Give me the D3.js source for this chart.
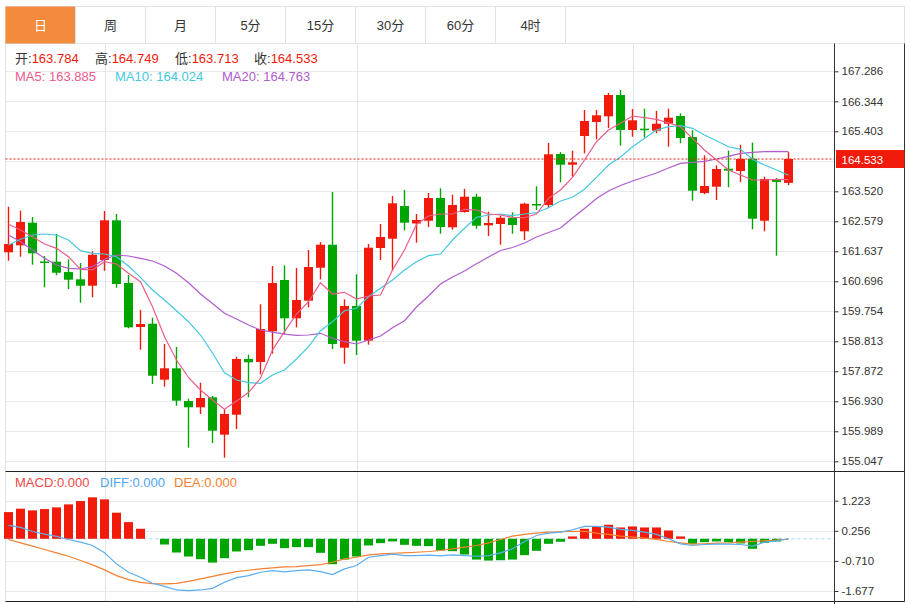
<!DOCTYPE html>
<html>
<head>
<meta charset="utf-8">
<script src="https://cdn.jsdelivr.net/npm/d3@7/dist/d3.min.js"></script>
<style>
  body { margin: 0; background: #fff; }
  svg { display: block; font-family: "Liberation Sans", "Noto Sans CJK SC", sans-serif; }
</style>
</head>
<body>
<div id="chart"></div>
<script>
// tabs across the top
var tabs = ["日", "周", "月", "5分", "15分", "30分", "60分", "4时"];

// daily candles
var open  = [161.606, 161.825, 162.535, 161.317, 161.311, 160.987, 160.758, 160.558, 161.364, 162.610,
             160.642, 159.261, 159.365, 157.608, 157.965, 156.939, 156.742, 157.055, 155.882, 156.509,
             158.257, 158.163, 159.127, 160.736, 159.535, 160.087, 161.122, 161.844, 158.612, 159.921,
             158.832, 161.741, 162.032, 163.059, 162.510, 162.597, 163.310, 162.390, 162.870, 163.350,
             162.453, 162.494, 162.691, 162.265, 163.121, 163.090, 164.690, 164.355, 165.255, 165.695,
             165.873, 166.542, 165.444, 165.485, 165.422, 165.641, 165.883, 165.224, 163.467, 163.664,
             164.229, 164.157, 164.543, 162.597, 163.906, 163.784];
var high  = [163.037, 162.911, 162.713, 161.490, 162.180, 161.386, 161.270, 161.637, 162.902, 162.808,
             160.893, 159.795, 159.553, 158.728, 158.634, 157.011, 157.514, 157.096, 156.679, 158.329,
             158.392, 159.974, 161.176, 161.198, 161.113, 161.678, 161.929, 163.498, 160.131, 160.915,
             161.866, 162.494, 163.372, 163.561, 162.808, 163.467, 163.614, 163.413, 163.602, 163.435,
             162.880, 162.754, 162.861, 163.162, 163.677, 165.036, 164.753, 164.794, 166.071, 166.071,
             166.605, 166.699, 166.103, 166.112, 166.040, 166.112, 165.968, 165.434, 164.650, 164.336,
             164.794, 164.982, 165.045, 163.978, 163.937, 164.749];
var low   = [161.342, 161.468, 161.217, 160.507, 160.884, 160.454, 160.024, 160.194, 161.028, 160.495,
             159.220, 158.549, 157.473, 157.388, 156.792, 155.474, 156.531, 155.621, 155.160, 156.061,
             157.055, 157.777, 158.424, 159.042, 159.252, 159.880, 160.758, 158.571, 158.110, 158.383,
             158.706, 161.364, 161.028, 162.296, 161.907, 162.400, 162.189, 162.315, 162.850, 162.346,
             162.117, 161.844, 162.189, 161.992, 162.933, 162.996, 163.802, 163.978, 164.712, 165.152,
             165.506, 164.951, 165.233, 165.215, 165.340, 164.920, 165.026, 163.225, 163.426, 163.247,
             163.645, 163.812, 162.327, 162.265, 161.499, 163.713];
var close = [161.866, 162.557, 161.574, 161.292, 160.965, 160.746, 160.558, 161.530, 162.610, 160.611,
             159.252, 159.356, 157.733, 157.965, 156.949, 156.742, 157.033, 156.007, 156.531, 158.257,
             158.154, 159.199, 160.642, 159.535, 160.109, 161.144, 161.844, 158.728, 159.921, 158.832,
             161.750, 162.086, 163.143, 162.535, 162.619, 163.310, 162.400, 163.090, 163.350, 162.440,
             162.525, 162.691, 162.462, 163.131, 163.103, 164.681, 164.355, 164.430, 165.726, 165.905,
             166.542, 165.444, 165.748, 165.453, 165.641, 165.830, 165.193, 163.539, 163.686, 164.220,
             164.167, 164.534, 162.660, 163.906, 163.812, 164.533];

// moving averages as drawn
var ma5  = [162.484, 162.306, 162.095, 161.866, 161.731, 161.468, 161.072, 161.050, 161.311, 161.239,
            160.947, 160.683, 159.899, 158.957, 158.226, 157.677, 157.284, 156.971, 156.679, 156.939,
            157.206, 157.652, 158.540, 159.114, 159.669, 160.055, 160.652, 160.297, 160.350, 160.140,
            160.234, 160.266, 161.050, 161.678, 162.478, 162.745, 162.808, 162.808, 162.955, 162.933,
            162.808, 162.776, 162.704, 162.691, 162.808, 163.300, 163.561, 163.959, 164.502, 165.076,
            165.444, 165.654, 165.883, 165.830, 165.779, 165.673, 165.547, 165.183, 164.816, 164.502,
            164.188, 164.031, 163.875, 163.875, 163.896, 163.885];
var ma10 = [161.835, 162.014, 162.149, 162.180, 162.149, 161.992, 161.656, 161.574, 161.552, 161.468,
            161.176, 160.821, 160.423, 160.109, 159.773, 159.428, 159.010, 158.446, 157.827, 157.598,
            157.514, 157.495, 157.755, 157.912, 158.257, 158.643, 159.145, 159.428, 159.773, 159.848,
            160.212, 160.476, 160.736, 161.050, 161.311, 161.499, 161.552, 161.992, 162.359, 162.704,
            162.776, 162.808, 162.754, 162.808, 162.848, 163.005, 163.215, 163.332, 163.583, 163.959,
            164.345, 164.596, 164.919, 165.183, 165.444, 165.547, 165.578, 165.497, 165.287, 165.108,
            164.919, 164.838, 164.524, 164.345, 164.188, 164.024];
var ma20 = [162.149, 161.938, 161.678, 161.417, 161.207, 161.104, 161.082, 161.154, 161.386, 161.521,
            161.489, 161.417, 161.333, 161.176, 160.947, 160.652, 160.297, 159.999, 159.691, 159.513,
            159.324, 159.167, 159.098, 159.036, 159.001, 159.010, 159.064, 158.907, 158.800, 158.728,
            158.854, 158.979, 159.239, 159.459, 159.889, 160.234, 160.611, 160.831, 161.019, 161.248,
            161.458, 161.662, 161.756, 161.898, 162.086, 162.227, 162.368, 162.682, 162.980, 163.294,
            163.529, 163.702, 163.843, 163.969, 164.094, 164.251, 164.398, 164.430, 164.461, 164.533,
            164.618, 164.712, 164.744, 164.766, 164.775, 164.763];

// MACD panel
var macd = [0.857, 0.967, 0.912, 0.954, 1.009, 1.105, 1.212, 1.331, 1.266, 0.838,
            0.535, 0.322, 0.000, -0.184, -0.441, -0.570, -0.656, -0.764, -0.624, -0.408,
            -0.366, -0.226, -0.161, -0.301, -0.269, -0.269, -0.451, -0.817, -0.667, -0.570,
            -0.215, -0.140, -0.086, -0.194, -0.226, -0.237, -0.376, -0.398, -0.506, -0.667,
            -0.699, -0.688, -0.667, -0.527, -0.387, -0.161, -0.097, 0.075, 0.322, 0.396,
            0.451, 0.364, 0.396, 0.364, 0.364, 0.267, 0.075, -0.161, -0.108, -0.086,
            -0.108, -0.150, -0.322, -0.129, -0.086, 0.000];
var diff = [0.429, 0.364, 0.235, 0.150, 0.075, -0.022, -0.108, -0.215, -0.451, -0.806,
            -1.075, -1.236, -1.430, -1.527, -1.644, -1.666, -1.644, -1.591, -1.398, -1.247,
            -1.183, -1.075, -1.022, -1.064, -1.022, -1.000, -1.054, -1.150, -0.967, -0.860,
            -0.593, -0.538, -0.496, -0.538, -0.538, -0.527, -0.550, -0.516, -0.538, -0.561,
            -0.538, -0.451, -0.322, -0.087, 0.106, 0.180, 0.213, 0.290, 0.396, 0.396,
            0.374, 0.300, 0.267, 0.213, 0.139, 0.000, -0.161, -0.215, -0.184, -0.174,
            -0.174, -0.184, -0.237, -0.108, -0.065, 0.000];
var dea  = [-0.022, -0.129, -0.237, -0.345, -0.451, -0.561, -0.699, -0.838, -1.000, -1.183,
            -1.312, -1.398, -1.441, -1.451, -1.430, -1.366, -1.289, -1.205, -1.128, -1.054,
            -1.011, -0.967, -0.935, -0.902, -0.893, -0.860, -0.828, -0.754, -0.645, -0.593,
            -0.516, -0.483, -0.464, -0.451, -0.432, -0.409, -0.376, -0.322, -0.269, -0.215,
            -0.129, -0.022, 0.085, 0.139, 0.180, 0.213, 0.226, 0.235, 0.235, 0.180,
            0.139, 0.085, 0.052, 0.019, -0.022, -0.087, -0.129, -0.174, -0.161, -0.140,
            -0.129, -0.108, -0.087, -0.065, -0.043, -0.011];

// axis tick values; the 164.462 one sits under the last-price tag
var priceTicks = ["167.286", "166.344", "165.403", "164.462", "163.520", "162.579", "161.637",
                  "160.696", "159.754", "158.813", "157.872", "156.930", "155.989", "155.047"];
var macdTicks = ["1.223", "0.256", "-0.710", "-1.677"];
var lastPrice = 164.533;

var W = 911, H = 604;
var left = 5.5, axisX = 834.5, rightX = 904.5;
var mainTop = 43.5, mainBottom = 471.5, macdBottom = 601.5;
var red = "#f21a0a", green = "#00a600";
var c5 = "#ee5b8c", c10 = "#45c8de", c20 = "#b05ccd";

var svg = d3.select("#chart").append("svg")
  .attr("width", W).attr("height", H);

var n = close.length;
var x = d3.scaleLinear().domain([0, n - 1]).range([8.5, 8.5 + 12 * (n - 1)]);
var y = d3.scaleLinear().domain([155.047, 167.286]).range([461.3, 71.3]);
var ym = d3.scaleLinear().domain([-1.677, 1.223]).range([591, 500.7]);
var py = y(lastPrice);

// ---- tabs
var tabW = 70;
svg.append("rect").attr("x", left).attr("y", 6.5).attr("width", rightX - left).attr("height", 37)
  .attr("fill", "#fff").attr("stroke", "#dfe3e8");
tabs.forEach(function(t, i) {
  var tx = left + i * tabW;
  if (i === 0) {
    svg.append("rect").attr("x", tx).attr("y", 6.5).attr("width", tabW).attr("height", 37)
      .attr("fill", "#f28b3b");
  }
  svg.append("line").attr("x1", tx + tabW).attr("x2", tx + tabW).attr("y1", 6.5).attr("y2", 43.5)
    .attr("stroke", "#dfe3e8");
  svg.append("text").attr("x", tx + tabW / 2).attr("y", 30).attr("text-anchor", "middle")
    .attr("font-size", 13).attr("fill", i === 0 ? "#fff" : "#333").text(t);
});

// ---- grid
var grid = svg.append("g");
priceTicks.forEach(function(t) {
  grid.append("line").attr("x1", left).attr("x2", axisX)
    .attr("y1", Math.round(y(+t)) + 0.5).attr("y2", Math.round(y(+t)) + 0.5)
    .attr("stroke", "#e6ebf0");
});
macdTicks.forEach(function(t) {
  grid.append("line").attr("x1", left).attr("x2", axisX)
    .attr("y1", Math.round(ym(+t)) + 0.5).attr("y2", Math.round(ym(+t)) + 0.5)
    .attr("stroke", "#e6ebf0");
});
[105.5, 357.5, 633.5].forEach(function(gx) {
  grid.append("line").attr("x1", gx).attr("x2", gx).attr("y1", mainTop).attr("y2", macdBottom)
    .attr("stroke", "#dde6ee");
});

// ---- frame
svg.append("line").attr("x1", left).attr("x2", left).attr("y1", mainTop).attr("y2", macdBottom).attr("stroke", "#dfe3e8");
svg.append("line").attr("x1", rightX).attr("x2", rightX).attr("y1", mainTop).attr("y2", macdBottom).attr("stroke", "#333");
svg.append("line").attr("x1", left).attr("x2", rightX).attr("y1", mainBottom).attr("y2", mainBottom).attr("stroke", "#222");
svg.append("line").attr("x1", left).attr("x2", rightX).attr("y1", macdBottom).attr("y2", macdBottom).attr("stroke", "#222");

// ---- header text
function label(g, xx, yy, parts) {
  var t = g.append("text").attr("x", xx).attr("y", yy).attr("font-size", 13);
  parts.forEach(function(p) { t.append("tspan").attr("fill", p[1]).text(p[0]); });
}
var head = svg.append("g");
label(head, 15, 63, [["开:", "#333"], [open[n - 1].toFixed(3), red]]);
label(head, 95, 63, [["高:", "#333"], [high[n - 1].toFixed(3), red]]);
label(head, 175, 63, [["低:", "#333"], [low[n - 1].toFixed(3), red]]);
label(head, 254, 63, [["收:", "#333"], [close[n - 1].toFixed(3), red]]);
label(head, 15, 81, [["MA5: " + ma5[n - 1].toFixed(3), c5]]);
label(head, 115, 81, [["MA10: " + ma10[n - 1].toFixed(3), c10]]);
label(head, 222, 81, [["MA20: " + ma20[n - 1].toFixed(3), c20]]);
label(head, 15, 487, [["MACD:0.000", "#f04848"]]);
label(head, 100, 487, [["DIFF:0.000", "#4ba6ee"]]);
label(head, 174, 487, [["DEA:0.000", "#f38030"]]);

// ---- candles
var data = d3.range(n).map(function(i) {
  return {i: i, o: open[i], h: high[i], l: low[i], c: close[i]};
});
var candles = svg.append("g").selectAll("g").data(data).enter().append("g");
candles.append("line")
  .attr("x1", function(d) { return x(d.i); })
  .attr("x2", function(d) { return x(d.i); })
  .attr("y1", function(d) { return y(d.h); })
  .attr("y2", function(d) { return y(d.l); })
  .attr("stroke", function(d) { return d.c >= d.o ? red : green; })
  .attr("stroke-width", 1.4);
candles.append("rect")
  .attr("x", function(d) { return x(d.i) - 4.5; })
  .attr("width", 9)
  .attr("y", function(d) { return y(Math.max(d.o, d.c)); })
  .attr("height", function(d) { return Math.max(1.5, Math.abs(y(d.o) - y(d.c))); })
  .attr("fill", function(d) { return d.c >= d.o ? red : green; });

// ---- moving averages
function drawLine(vals, scale, color) {
  var line = d3.line().x(function(d, i) { return x(i); }).y(function(d) { return scale(d); });
  svg.append("path").datum(vals).attr("d", line)
    .attr("fill", "none").attr("stroke", color).attr("stroke-width", 1.2);
}
drawLine(ma20, y, c20);
drawLine(ma10, y, c10);
drawLine(ma5, y, c5);

// ---- last price line
svg.append("line").attr("x1", left).attr("x2", axisX)
  .attr("y1", py).attr("y2", py)
  .attr("stroke", red).attr("stroke-dasharray", "2,2").attr("stroke-width", 1);

// ---- MACD
svg.append("line").attr("x1", left).attr("x2", axisX).attr("y1", ym(0)).attr("y2", ym(0))
  .attr("stroke", "#a8d8ec").attr("stroke-dasharray", "3,3");
svg.append("g").selectAll("rect").data(macd).enter().append("rect")
  .attr("x", function(d, i) { return x(i) - 4.5; })
  .attr("width", 9)
  .attr("y", function(d) { return d >= 0 ? ym(d) : ym(0); })
  .attr("height", function(d) { return Math.abs(ym(d) - ym(0)); })
  .attr("fill", function(d) { return d >= 0 ? red : green; });
drawLine(dea, ym, "#f38030");
drawLine(diff, ym, "#5aaef0");

// ---- axes
var axisG = svg.append("g").attr("transform", "translate(" + axisX + ",0)");
axisG.call(d3.axisRight(y).tickValues(priceTicks.map(Number))
  .tickFormat(function(d, i) { return priceTicks[i]; }).tickSize(4).tickPadding(3));
var axisM = svg.append("g").attr("transform", "translate(" + axisX + ",0)");
axisM.call(d3.axisRight(ym).tickValues(macdTicks.map(Number))
  .tickFormat(function(d, i) { return macdTicks[i]; }).tickSize(4).tickPadding(3));
[axisG, axisM].forEach(function(a) {
  a.select(".domain").remove();
  a.selectAll("line").attr("stroke", "#333");
  a.selectAll("text").attr("font-size", 11.5).attr("fill", "#333")
    .attr("font-family", "'Liberation Sans', sans-serif");
});
// the tick under the price tag is covered in the original, so drop its label
axisG.selectAll(".tick").filter(function(d) { return Math.abs(y(d) - py) < 12; }).remove();
svg.append("line").attr("x1", axisX).attr("x2", axisX).attr("y1", mainTop).attr("y2", H)
  .attr("stroke", "#333");

// price tag
svg.append("rect").attr("x", axisX + 1.5).attr("y", py - 9).attr("width", rightX - axisX - 1.5).attr("height", 18)
  .attr("fill", red);
svg.append("text").attr("x", axisX + 7).attr("y", py + 4.5).attr("font-size", 11.5)
  .attr("fill", "#fff").text(lastPrice.toFixed(3));
</script>
</body>
</html>
